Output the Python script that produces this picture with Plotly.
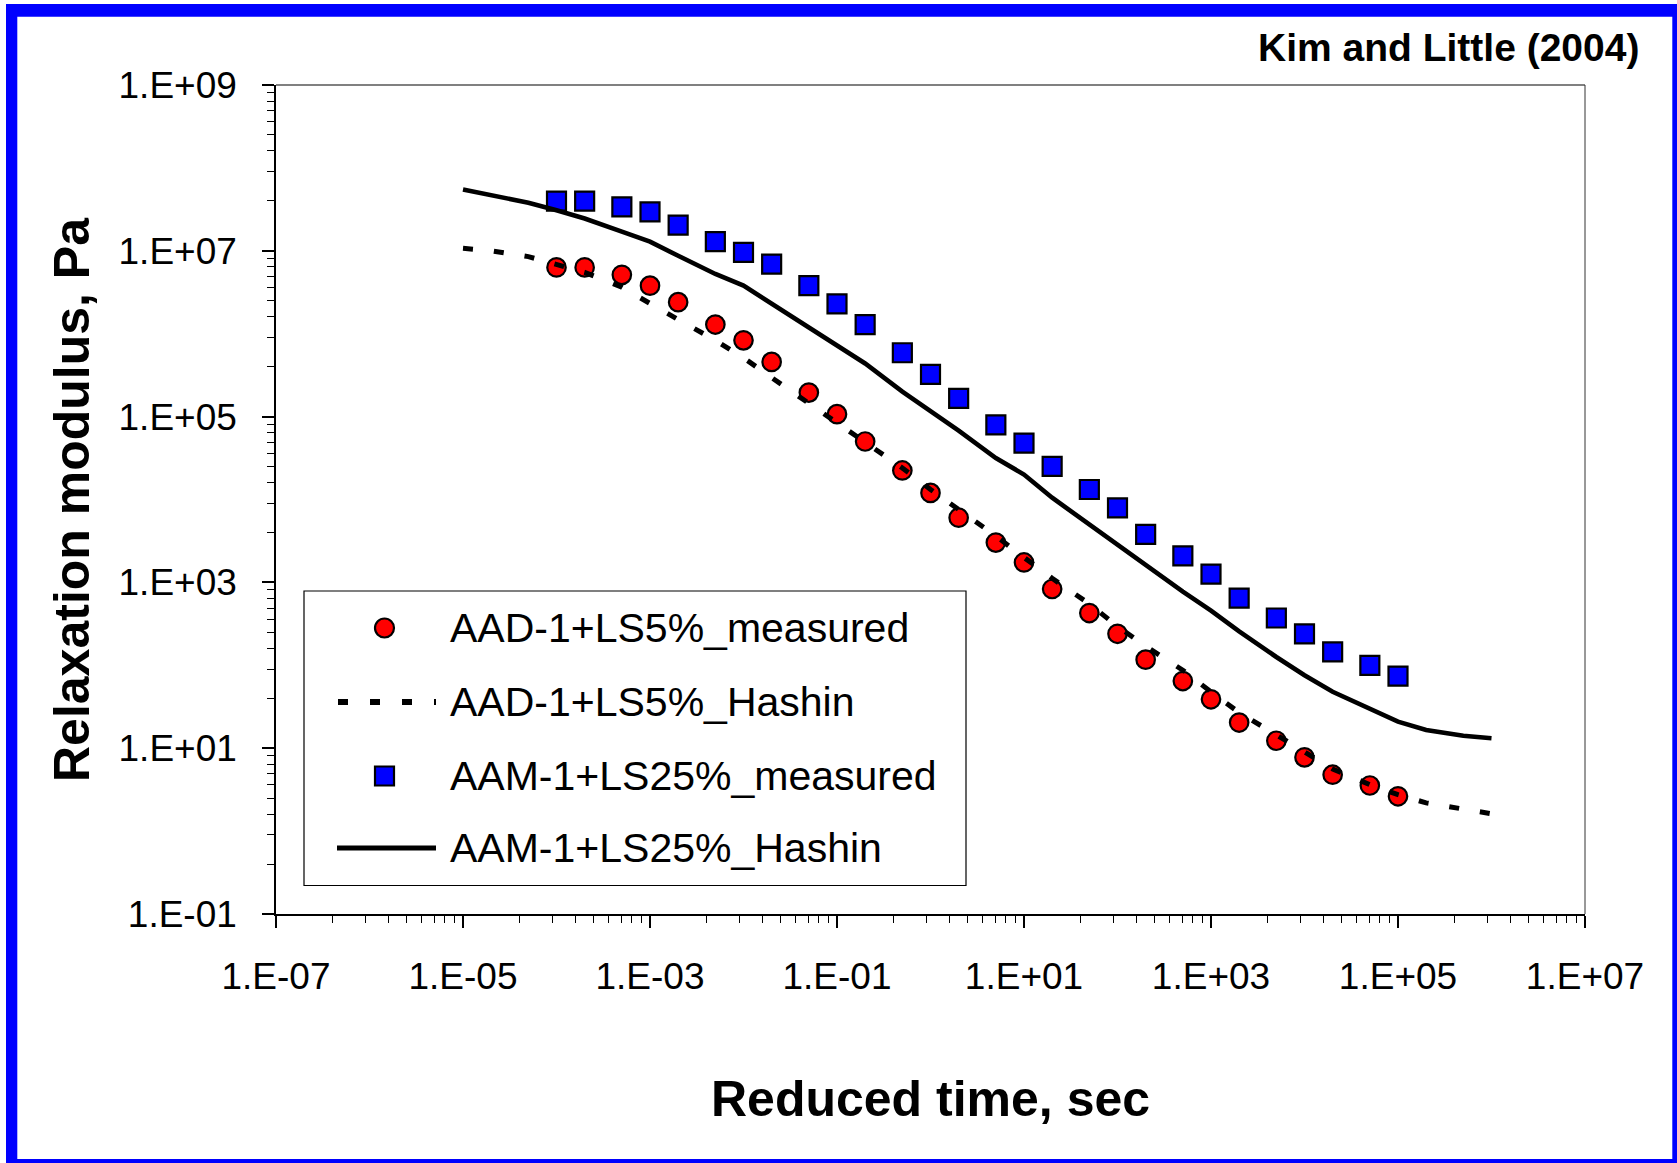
import plotly.graph_objects as go

# ---------------- data ----------------
time_measured = [1e-4, 2e-4, 5e-4, 1e-3, 2e-3, 5e-3, 1e-2, 2e-2, 5e-2, 1e-1,
                 2e-1, 5e-1, 1, 2, 5, 10, 20, 50, 100, 200,
                 500, 1e3, 2e3, 5e3, 1e4, 2e4, 5e4, 1e5]

aad_measured = [6.31e6, 6.31e6, 5.13e6, 3.80e6, 2.40e6, 1.29e6, 8.32e5, 4.57e5, 1.95e5, 1.07e5,
                5.01e4, 2.24e4, 1.20e4, 6.03e3, 3.02e3, 1.74e3, 832, 427, 240, 117,
                64.6, 38.9, 20.4, 12.3, 7.76, 4.79, 3.55, 2.63]

aam_measured = [3.98e7, 3.98e7, 3.39e7, 2.95e7, 2.04e7, 1.29e7, 9.55e6, 6.92e6, 3.80e6, 2.29e6,
                1.29e6, 5.89e5, 3.24e5, 1.66e5, 7.94e4, 4.79e4, 2.51e4, 1.32e4, 7.94e3, 3.80e3,
                2.09e3, 1.26e3, 646, 372, 240, 145, 100, 74.1]

time_model = [1e-5, 2e-5, 5e-5, 1e-4, 2e-4, 5e-4, 1e-3, 2e-3, 5e-3, 1e-2,
              2e-2, 5e-2, 1e-1, 2e-1, 5e-1, 1, 2, 5, 10, 20,
              50, 100, 200, 500, 1e3, 2e3, 5e3, 1e4, 2e4, 5e4,
              1e5, 2e5, 5e5, 1e6]

aad_hashin = [1.07e7, 1.00e7, 8.51e6, 6.92e6, 5.50e6, 3.63e6, 2.29e6, 1.48e6, 8.32e5, 5.13e5,
              2.95e5, 1.45e5, 8.32e4, 4.90e4, 2.40e4, 1.32e4, 7.59e3, 3.63e3, 2.00e3, 1.12e3,
              550, 295, 170, 87.1, 47.9, 26.9, 14.5, 9.12, 5.62, 3.63,
              2.75, 2.19, 1.82, 1.62]

aam_hashin = [5.50e7, 4.68e7, 3.80e7, 3.09e7, 2.45e7, 1.70e7, 1.29e7, 8.71e6, 5.25e6, 3.80e6,
              2.29e6, 1.17e6, 7.24e5, 4.37e5, 2.00e5, 1.17e5, 6.76e4, 3.16e4, 2.00e4, 1.05e4,
              5.01e3, 2.82e3, 1.58e3, 776, 457, 257, 126, 75.9, 47.9, 29.5,
              20.9, 16.6, 14.1, 13.2]

series_names = ["AAD-1+LS5%_measured", "AAD-1+LS5%_Hashin",
                "AAM-1+LS25%_measured", "AAM-1+LS25%_Hashin"]

x_tickvals = [1e-7, 1e-5, 1e-3, 1e-1, 1e1, 1e3, 1e5, 1e7]
x_ticktext = ["1.E-07", "1.E-05", "1.E-03", "1.E-01", "1.E+01", "1.E+03", "1.E+05", "1.E+07"]
y_tickvals = [1e-1, 1e1, 1e3, 1e5, 1e7, 1e9]
y_ticktext = ["1.E-01", "1.E+01", "1.E+03", "1.E+05", "1.E+07", "1.E+09"]

x_title = "Reduced time, sec"
y_title = "Relaxation modulus, Pa"
source_note = "Kim and Little (2004)"

# ---------------- layout geometry ----------------
W, H = 1677, 1163
ML, MR, MT, MB = 276, 92, 85, 249
PL, PR, PT, PB = ML, W - MR, MT, H - MB
FONT = "Liberation Sans, Arial, Helvetica, sans-serif"


def px2x(px):
    return (px - PL) / (PR - PL)


def py2y(py):
    return (PB - py) / (PB - PT)


# minor ticks as drawn by the original (square-spaced inside each 2-decade step)
x_minor = [v * k * k for v in x_tickvals[:-1] for k in range(2, 10)]
y_minor = [v * k * k for v in y_tickvals[:-1] for k in range(2, 10)]

fig = go.Figure()

fig.add_trace(go.Scatter(
    x=time_measured, y=aad_measured, name=series_names[0], mode="markers",
    marker=dict(symbol="circle", size=18.5, color="#FF0000", line=dict(color="black", width=2.2))))
fig.add_trace(go.Scatter(
    x=time_model, y=aad_hashin, name=series_names[1], mode="lines",
    line=dict(color="black", width=5, dash="10px,21px")))
fig.add_trace(go.Scatter(
    x=time_measured, y=aam_measured, name=series_names[2], mode="markers",
    marker=dict(symbol="square", size=19, color="#0000FF", line=dict(color="black", width=2.2))))
fig.add_trace(go.Scatter(
    x=time_model, y=aam_hashin, name=series_names[3], mode="lines",
    line=dict(color="black", width=4.6)))

axis_common = dict(
    type="log", tickmode="array", ticks="outside", ticklen=12, tickwidth=1.5,
    tickcolor="black", showline=True, linecolor="black", linewidth=1.5,
    showgrid=False, zeroline=False, tickfont=dict(family=FONT, size=37, color="black"),
)

fig.update_xaxes(range=[-7, 7], tickvals=x_tickvals, ticktext=x_ticktext,
                 ticklabelstandoff=17,
                 minor=dict(tickmode="array", tickvals=x_minor, ticks="outside",
                            ticklen=7, tickwidth=1.2, tickcolor="black", showgrid=False),
                 **axis_common)
fig.update_yaxes(range=[-1, 9], tickvals=y_tickvals, ticktext=y_ticktext,
                 ticklabelstandoff=18,
                 minor=dict(tickmode="array", tickvals=y_minor, ticks="outside",
                            ticklen=7, tickwidth=1.2, tickcolor="black", showgrid=False),
                 **axis_common)

shapes = []
# plot-area frame: grey top, dark right
shapes.append(dict(type="line", xref="paper", yref="paper", x0=0, x1=1, y0=1, y1=1,
                   line=dict(color="#808080", width=2)))
shapes.append(dict(type="line", xref="paper", yref="paper", x0=1, x1=1, y0=0, y1=1,
                   line=dict(color="#333333", width=1)))

# blue outer frame
blue = "#0000FF"
for (x0, x1, y0, y1) in [(6, 1695, 4, 16.7), (6, 17.3, 4, 1180),
                         (1672.3, 1695, 4, 1180), (6, 1695, 1159, 1180)]:
    shapes.append(dict(type="rect", xref="paper", yref="paper",
                       x0=px2x(x0), x1=px2x(x1), y0=py2y(y1), y1=py2y(y0),
                       fillcolor=blue, line=dict(width=0), layer="above"))

# manual legend box
shapes.append(dict(type="rect", xref="paper", yref="paper",
                   x0=px2x(304), x1=px2x(966), y0=py2y(885.5), y1=py2y(591),
                   fillcolor="white", line=dict(color="black", width=1.2), layer="above"))
rows = [628, 702, 776, 848]
mx = 384.5
r = 9.5
# circle sample
shapes.append(dict(type="circle", xref="paper", yref="paper",
                   x0=px2x(mx - r), x1=px2x(mx + r), y0=py2y(rows[0] + r), y1=py2y(rows[0] - r),
                   fillcolor="#FF0000", line=dict(color="black", width=2.2), layer="above"))
# dashed sample
shapes.append(dict(type="line", xref="paper", yref="paper",
                   x0=px2x(338), x1=px2x(436), y0=py2y(rows[1]), y1=py2y(rows[1]),
                   line=dict(color="black", width=6, dash="10px,22px"), layer="above"))
# square sample
shapes.append(dict(type="rect", xref="paper", yref="paper",
                   x0=px2x(mx - r), x1=px2x(mx + r), y0=py2y(rows[2] + r), y1=py2y(rows[2] - r),
                   fillcolor="#0000FF", line=dict(color="black", width=2.2), layer="above"))
# solid sample
shapes.append(dict(type="line", xref="paper", yref="paper",
                   x0=px2x(337), x1=px2x(436), y0=py2y(rows[3]), y1=py2y(rows[3]),
                   line=dict(color="black", width=5), layer="above"))

annotations = []
for name, ry in zip(series_names, rows):
    annotations.append(dict(text=name, xref="paper", yref="paper", x=px2x(448), y=py2y(ry),
                            xanchor="left", yanchor="middle", showarrow=False,
                            font=dict(family=FONT, size=41, color="black")))

annotations.append(dict(text="<b>%s</b>" % source_note, xref="paper", yref="paper",
                        x=px2x(1641), y=py2y(47), xanchor="right", yanchor="middle",
                        showarrow=False, font=dict(family=FONT, size=39, color="black")))
annotations.append(dict(text="<b>%s</b>" % x_title, xref="paper", yref="paper",
                        x=px2x(930.5), y=py2y(1099), xanchor="center", yanchor="middle",
                        showarrow=False, font=dict(family=FONT, size=50, color="black")))
annotations.append(dict(text="<b>%s</b>" % y_title, xref="paper", yref="paper",
                        x=px2x(72), y=py2y(500), xanchor="center", yanchor="middle",
                        textangle=-90, showarrow=False,
                        font=dict(family=FONT, size=50, color="black")))

fig.update_layout(
    width=W, height=H, autosize=False,
    margin=dict(l=ML, r=MR, t=MT, b=MB, pad=0),
    paper_bgcolor="white", plot_bgcolor="white",
    showlegend=False,
    font=dict(family=FONT, color="black"),
    shapes=shapes, annotations=annotations,
)

fig.write_html("out.html", config={"displayModeBar": False},
               post_script="document.body.style.margin='0';document.body.style.overflow='hidden';")
